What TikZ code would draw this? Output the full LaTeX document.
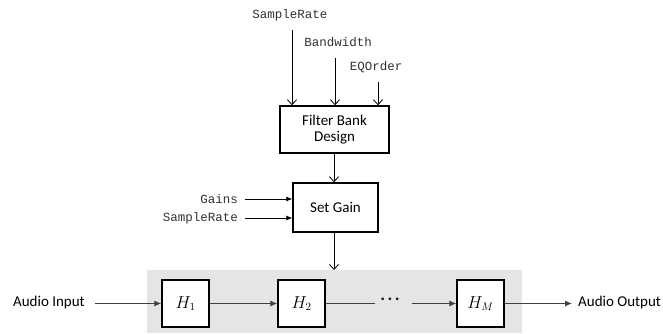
\documentclass[tikz,border=0pt]{standalone}
\usepackage{fontspec}
\setmainfont{Carlito}
\newfontfamily\monofont{Liberation Mono}
\usetikzlibrary{arrows.meta}
\tikzset{
  lbl/.style={font=\monofont\fontsize{12.5}{14}\selectfont, inner sep=0pt, text=black!80},
  sans/.style={font=\fontsize{15}{18}\selectfont, inner sep=0pt},
  blk/.style={draw=black, line width=1.4pt, fill=white, align=center, font=\fontsize{15}{18}\selectfont},
  hblk/.style={draw=black, line width=1.4pt, fill=white, minimum width=47pt, minimum height=47pt, font=\fontsize{16}{18}\selectfont},
  barb/.style={-{Straight Barb[length=5pt,width=9pt]}, line width=0.8pt, black},
  tri/.style={-{Latex[length=7pt,width=6pt]}, line width=1pt, black!75},
  plain/.style={line width=1pt, black!75}
}
\begin{document}
\begin{tikzpicture}[x=1pt,y=-1pt]
\fill[white] (0,0) rectangle (663,333);
\useasboundingbox (0,0) rectangle (663,333);
% gray band
\fill[black!10] (147,270) rectangle (522,333);
% blocks
\node[blk, minimum width=109pt, minimum height=47pt] (fbd) at (334.5,129.5) {Filter Bank\\[-2pt]Design};
\node[blk, minimum width=85pt, minimum height=49pt] (sg) at (335.5,207.5) {Set Gain};
\node[hblk] (h1) at (185.5,303.5) {$H_1$};
\node[hblk] (h2) at (301.5,303.5) {$H_2$};
\node[hblk] (hm) at (480.5,303.5) {$H_M$};
% top labels
\node[lbl] (sr) at (290,15) {SampleRate};
\node[lbl] (bw) at (338,42) {Bandwidth};
\node[lbl] (eq) at (376,67) {EQOrder};
\coordinate (srA) at (292,30);
\coordinate (bwA) at (335,58);
\coordinate (eqA) at (378,82);
\draw[barb] (srA) -- (srA |- fbd.north);
\draw[barb] (bwA) -- (bwA |- fbd.north);
\draw[barb] (eqA) -- (eqA |- fbd.north);
\draw[barb] (fbd.south -| 334,0) -- (sg.north -| 334,0);
% side labels
\node[lbl, anchor=east] (gn) at (238,199) {Gains};
\node[lbl, anchor=east] (sr2) at (238,218) {SampleRate};
\coordinate (gnA) at (245,199);
\coordinate (sr2A) at (245,218);
\draw[-{Latex[length=6pt,width=5pt]}, line width=0.8pt] (gnA) -- (gnA -| sg.west);
\draw[-{Latex[length=6pt,width=5pt]}, line width=0.8pt] (sr2A) -- (sr2A -| sg.west);
\coordinate (band) at (334,270);
\draw[barb] (sg.south -| 334,0) -- (band);
% bottom chain
\node[sans, anchor=east] (ain) at (85,302) {Audio Input};
\node[sans, anchor=west] (aout) at (578,302) {Audio Output};
\coordinate (ainA) at (95,303.5);
\draw[tri] (ainA) -- (h1.west);
\draw[tri] (h1.east) -- (h2.west);
\node[inner sep=0pt, font=\fontsize{18}{18}\selectfont\bfseries, text=black!90] (dots) at (390,299) {.\kern2.5pt.\kern2.5pt.};
\coordinate (l1) at (375,303.5);
\coordinate (l2) at (412,303.5);
\draw[plain] (h2.east) -- (l1);
\draw[tri] (l2) -- (hm.west);
\coordinate (aoutA) at (572,303.5);
\draw[tri] (hm.east) -- (aoutA);
\end{tikzpicture}
\end{document}
